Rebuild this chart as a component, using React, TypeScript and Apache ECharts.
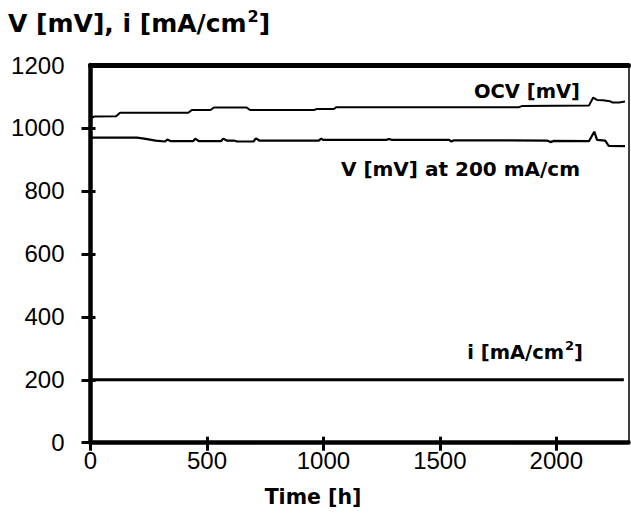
import React, { useEffect, useRef } from "react";
import * as echarts from "echarts";

// ---- data ----
const xTickValues = [0, 500, 1000, 1500, 2000];
const yTickMarks = [0, 200, 400, 600, 800, 1000];
const xMax = 2310;
const yMax = 1200;

const ocvTime = [0, 15, 110, 127, 420, 435, 515, 530, 670, 685, 960, 970, 1045, 1055, 1300, 1840, 1855, 2140, 2158, 2175, 2200, 2230, 2240, 2270, 2295];
const ocvValue = [1030, 1036, 1037, 1048, 1048, 1057, 1057, 1065, 1065, 1057, 1057, 1060, 1060, 1066, 1066, 1066, 1070, 1071, 1096, 1089, 1088, 1085, 1081, 1081, 1084];

const vTime = [0, 200, 230, 280, 320, 330, 345, 440, 450, 465, 560, 570, 585, 615, 630, 700, 710, 725, 980, 990, 1000, 1270, 1280, 1295, 1540, 1550, 1560, 1960, 1975, 1990, 2140, 2163, 2175, 2210, 2225, 2295];
const vValue = [969, 969, 966, 960, 957, 963, 958, 958, 966, 958, 958, 966, 960, 960, 957, 957, 967, 960, 960, 966, 962, 962, 965, 962, 962, 957, 961, 960, 955, 959, 958, 988, 962, 960, 943, 942];

const iTime = [0, 2290];
const iValue = [200, 200];

const zip = (t: number[], v: number[]) => t.map((x, k) => [x, v[k]]);

const BOLD = "'DejaVu Sans', 'Liberation Sans', Arial, sans-serif";
const REG = "'Liberation Sans', Arial, sans-serif";
const plain = (v: number) => String(v);

export default function App() {
  const ref = useRef<HTMLDivElement>(null);
  useEffect(() => {
    if (!ref.current) return;
    const chart = echarts.init(ref.current, null, { renderer: "svg" });
    const baseX = { type: "value" as const, min: 0, max: xMax, interval: 500, splitLine: { show: false } };
    const baseY = { type: "value" as const, min: 0, max: yMax, interval: 200, splitLine: { show: false } };
    chart.setOption({
      animation: false,
      backgroundColor: "#fff",
      grid: { left: 90.5, right: 2.5, top: 65, bottom: 80.3, containLabel: false },
      xAxis: [
        {
          ...baseX,
          position: "bottom",
          axisLine: { show: true, onZero: false, lineStyle: { color: "#000", width: 4.5 } },
          axisTick: { show: true, inside: false, length: 8, lineStyle: { color: "#000", width: 3 }, customValues: xTickValues },
          axisLabel: { show: true, margin: 6, color: "#000", fontSize: 24, fontFamily: REG, customValues: xTickValues, formatter: plain },
        },
        {
          ...baseX,
          position: "top",
          axisLine: { show: true, onZero: false, lineStyle: { color: "#000", width: 5 } },
          axisTick: { show: false },
          axisLabel: { show: false },
        },
        {
          ...baseX,
          position: "bottom",
          axisLine: { show: false },
          axisTick: { show: true, inside: true, length: 6, lineStyle: { color: "#000", width: 3 }, customValues: xTickValues },
          axisLabel: { show: false },
        },
      ],
      yAxis: [
        {
          ...baseY,
          position: "left",
          axisLine: { show: true, onZero: false, lineStyle: { color: "#000", width: 4.5 } },
          axisTick: { show: true, inside: false, length: 9, lineStyle: { color: "#000", width: 3 }, customValues: yTickMarks },
          axisLabel: { show: true, margin: 26, color: "#000", fontSize: 24, fontFamily: REG, formatter: plain },
        },
        {
          ...baseY,
          position: "right",
          axisLine: { show: true, onZero: false, lineStyle: { color: "#000", width: 1.5 } },
          axisTick: { show: false },
          axisLabel: { show: false },
        },
        {
          ...baseY,
          position: "left",
          axisLine: { show: false },
          axisTick: { show: true, inside: true, length: 5, lineStyle: { color: "#000", width: 3 }, customValues: yTickMarks },
          axisLabel: { show: false },
        },
      ],
      series: [
        {
          name: "OCV",
          type: "line",
          data: zip(ocvTime, ocvValue),
          showSymbol: false,
          lineStyle: { color: "#000", width: 2 },
        },
        {
          name: "V",
          type: "line",
          data: zip(vTime, vValue),
          showSymbol: false,
          lineStyle: { color: "#000", width: 2.2 },
        },
        {
          name: "i",
          type: "line",
          data: zip(iTime, iValue),
          showSymbol: false,
          lineStyle: { color: "#000", width: 3 },
        },
      ],
      graphic: [
        {
          type: "text",
          left: 8,
          top: 6,
          style: {
            text: "{a|V [mV], i [mA/cm}{b|2}{a|]}",
            rich: {
              a: { fontSize: 25, fontWeight: "bold", fontFamily: BOLD, fill: "#000", lineHeight: 30, verticalAlign: "bottom" },
              b: { fontSize: 16, fontWeight: "bold", fontFamily: BOLD, fill: "#000", lineHeight: 30, verticalAlign: "top", padding: [2, 0, 0, 1] },
            },
          },
        },
        {
          type: "text",
          x: 313,
          y: 497,
          style: { text: "Time [h]", font: `bold 20.5px ${BOLD}`, fill: "#000", align: "center", verticalAlign: "middle" },
        },
        {
          type: "text",
          x: 580,
          y: 91,
          style: { text: "OCV [mV]", font: `bold 19.5px ${BOLD}`, fill: "#000", align: "right", verticalAlign: "middle" },
        },
        {
          type: "text",
          x: 580,
          y: 169,
          style: { text: "V [mV] at 200 mA/cm", font: `bold 20px ${BOLD}`, fill: "#000", align: "right", verticalAlign: "middle" },
        },
        {
          type: "text",
          right: 48,
          top: 338,
          style: {
            text: "{a|i [mA/cm}{b|2}{a|]}",
            rich: {
              a: { fontSize: 19.5, fontWeight: "bold", fontFamily: BOLD, fill: "#000", lineHeight: 24, verticalAlign: "bottom" },
              b: { fontSize: 13, fontWeight: "bold", fontFamily: BOLD, fill: "#000", lineHeight: 24, verticalAlign: "top", padding: [1, 0, 0, 1] },
            },
          },
        },
      ],
    });
    return () => chart.dispose();
  }, []);
  return (
    <div
      ref={ref}
      style={{ position: "fixed", left: 0, top: 0, width: 631, height: 523, background: "#fff" }}
    />
  );
}
